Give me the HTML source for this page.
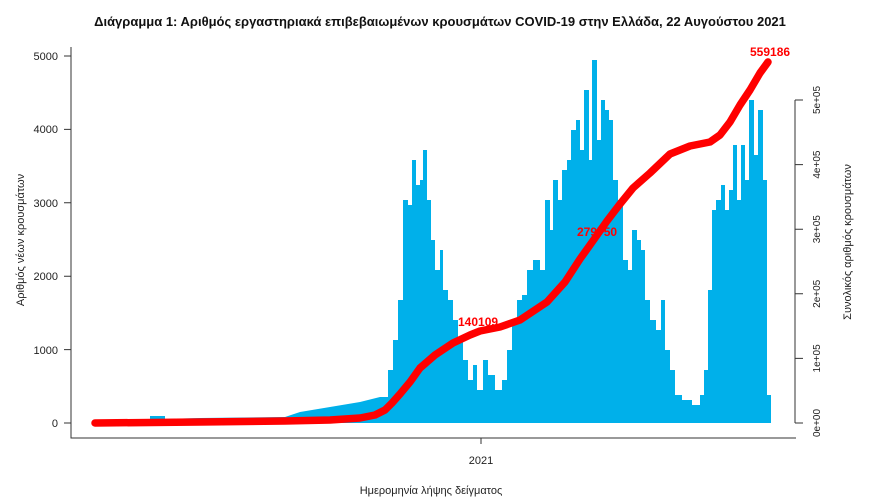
<!DOCTYPE html>
<html><head><meta charset="utf-8"><style>
body{margin:0;background:#fff}
svg{display:block;font-family:"Liberation Sans","DejaVu Sans",sans-serif}
</style></head><body>
<svg width="880" height="504" viewBox="0 0 880 504" xmlns="http://www.w3.org/2000/svg">
<text x="440" y="26" text-anchor="middle" font-size="13" font-weight="bold" fill="#111">Διάγραμμα 1: Αριθμός εργαστηριακά επιβεβαιωμένων κρουσμάτων COVID-19 στην Ελλάδα, 22 Αυγούστου 2021</text>
<polygon fill="#00b0ea" points="95,423 95,421 150,421 150,416 165,416 165,419 200,418 285,417 300,412 330,407 360,402 380,397 388,397 388,370 393,370 393,340 398,340 398,300 403,300 403,200 408,200 408,205 412,205 412,160 416,160 416,185 420,185 420,180 423,180 423,150 427,150 427,200 431,200 431,240 435,240 435,270 440,270 440,250 443,250 443,290 448,290 448,300 453,300 453,320 458,320 458,340 463,340 463,360 468,360 468,380 473,380 473,365 477,365 477,390 483,390 483,360 488,360 488,375 495,375 495,390 502,390 502,380 507,380 507,350 512,350 512,320 517,320 517,300 522,300 522,295 527,295 527,270 533,270 533,260 540,260 540,270 545,270 545,200 550,200 550,230 553,230 553,180 558,180 558,200 562,200 562,170 567,170 567,160 571,160 571,130 576,130 576,120 580,120 580,150 584,150 584,90 589,90 589,160 592,160 592,60 597,60 597,140 601,140 601,100 605,100 605,110 609,110 609,120 613,120 613,180 618,180 618,200 623,200 623,260 628,260 628,270 632,270 632,230 637,230 637,240 641,240 641,250 645,250 645,300 650,300 650,320 656,320 656,330 661,330 661,300 665,300 665,350 670,350 670,370 675,370 675,395 682,395 682,400 692,400 692,405 700,405 700,395 704,395 704,370 708,370 708,290 712,290 712,210 716,210 716,200 721,200 721,185 725,185 725,210 729,210 729,190 733,190 733,145 737,145 737,200 741,200 741,145 745,145 745,180 749,180 749,100 754,100 754,155 758,155 758,110 763,110 763,180 767,180 767,395 771,395 771,423"/>
<polyline fill="none" stroke="#ff0000" stroke-width="7.5" stroke-linecap="round" stroke-linejoin="round" points="95,423 200,422 285,421 330,420 360,418 375,415 385,410 392,403 400,394 410,382 420,368 435,355 453,343 470,335 480,331 500,327 520,320 535,310 547,302 565,282 580,259 595,238 607,221 620,204 633,188 650,173 670,154 690,146 710,142 720,135 730,122 740,105 750,90 760,73 768,62"/>
<g font-weight="bold" fill="#ff0000" font-size="12">
<text x="458" y="326">140109</text>
<text x="577" y="236">279750</text>
<text x="750" y="56">559186</text>
</g>
<g stroke="#333" stroke-width="1" fill="none">
<path d="M71 47V438H796"/>
<path d="M64 56H71M64 129.4H71M64 202.8H71M64 276.2H71M64 349.6H71M64 423H71"/>
<path d="M481 438V444"/>
<path d="M795 100V423M795 100H803M795 164.6H803M795 229.2H803M795 293.8H803M795 358.4H803M795 423H803"/>
</g>
<g font-size="11" fill="#222" text-anchor="end">
<text x="58" y="60">5000</text><text x="58" y="133">4000</text><text x="58" y="207">3000</text>
<text x="58" y="280">2000</text><text x="58" y="354">1000</text><text x="58" y="427">0</text>
</g>
<text x="481" y="464" font-size="11" text-anchor="middle" fill="#222">2021</text>
<text x="431" y="494" font-size="11" text-anchor="middle" fill="#222">Ημερομηνία λήψης δείγματος</text>
<text transform="translate(24,240) rotate(-90)" font-size="11" text-anchor="middle" fill="#222">Αριθμός νέων κρουσμάτων</text>
<text transform="translate(851,242) rotate(-90)" font-size="11" text-anchor="middle" fill="#222">Συνολικός αριθμός κρουσμάτων</text>
<g font-size="10" fill="#222" text-anchor="middle">
<text transform="translate(820,100) rotate(-90)">5e+05</text>
<text transform="translate(820,164.6) rotate(-90)">4e+05</text>
<text transform="translate(820,229.2) rotate(-90)">3e+05</text>
<text transform="translate(820,293.8) rotate(-90)">2e+05</text>
<text transform="translate(820,358.4) rotate(-90)">1e+05</text>
<text transform="translate(820,423) rotate(-90)">0e+00</text>
</g>
</svg>
</body></html>
